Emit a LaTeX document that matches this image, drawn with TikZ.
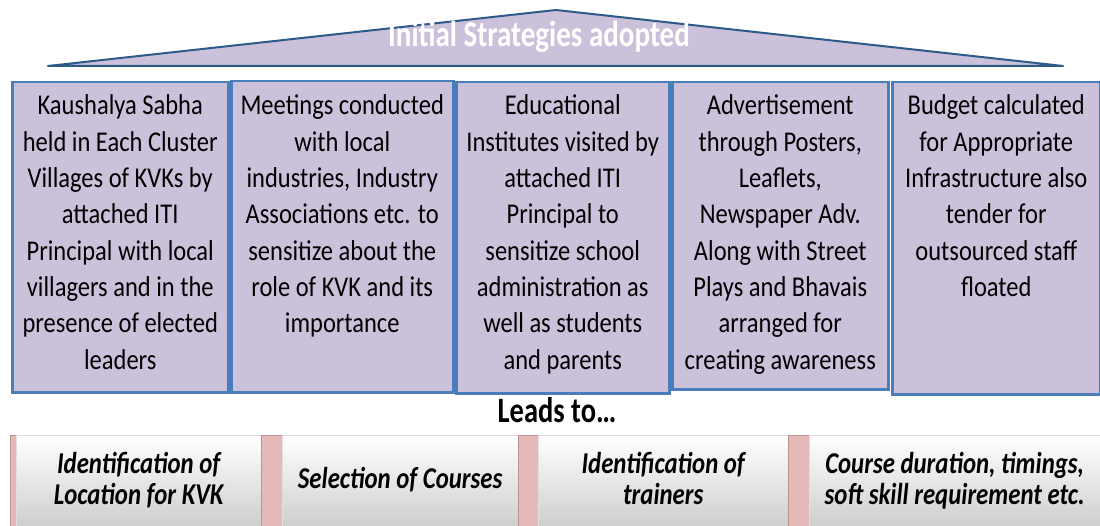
\documentclass[tikz,border=0pt]{standalone}
\usepackage{fontspec}
\setmainfont{Carlito}
\usetikzlibrary{positioning}
\definecolor{lavender}{HTML}{CCC1DA}
\definecolor{roofblue}{HTML}{2E5A8A}
\definecolor{boxblue}{HTML}{4A7EBB}
\definecolor{barpink}{HTML}{E6B9B8}
% text a little taller than wide, as in the slide
\newcommand{\tall}[2][1.25]{\scalebox{1}[#1]{\begin{tabular}{@{}c@{}}#2\end{tabular}}}
\tikzset{
x=1pt, y=-1pt, % one unit per pixel, y runs down
roof/.style={draw=roofblue, line width=2pt, fill=lavender, line join=round}, % the triangle on top
stratbox/.style={draw=boxblue, line width=2.5pt, fill=lavender, anchor=north west}, % the five pillars
strattext/.style={inner sep=0pt, font=\fontsize{24.5}{31.1}\selectfont}, % text in the pillars
leadbox/.style={draw=gray!25, top color=white, bottom color=gray!40, anchor=north west, minimum height=95pt, inner sep=0pt, font=\fontsize{24.8}{25}\selectfont\bfseries\itshape},
pinkbar/.style={draw=barpink!80!black, fill=barpink, anchor=north west, minimum height=95pt, inner sep=0pt},
}

\begin{document}
\begin{tikzpicture}
\useasboundingbox[fill=white] (0,0) rectangle (1100,526);
% roof
\coordinate (roofL) at (48,66);
\coordinate (roofT) at (556,10);
\coordinate (roofR) at (1063,66);
\draw[roof] (roofL) -- (roofT) -- (roofR) -- cycle;
\node[text=white, inner sep=0pt, font=\fontsize{29}{35}\selectfont\bfseries] (title) at (539,38) {\tall{Initial Strategies adopted}};
% pillars
\node[stratbox, minimum width=216pt, minimum height=310pt] (kaushalya) at (11,81) {};
\node[stratbox, minimum width=222pt, minimum height=311pt] (meetings) at (230,80) {};
\node[stratbox, minimum width=213pt, minimum height=311pt] (institutes) at (455,81) {};
\node[stratbox, minimum width=216pt, minimum height=307pt] (advert) at (671,81) {};
\node[stratbox, minimum width=208pt, minimum height=312pt] (budget) at (891,81) {};
\node[strattext, below=8pt of kaushalya.north] (kaushalyaT) {\tall[1.17]{Kaushalya Sabha\\held in Each Cluster\\Villages of KVKs by\\attached ITI\\Principal with local\\villagers and in the\\presence of elected\\leaders}};
\node[strattext, below=9pt of meetings.north] (meetingsT) {\tall[1.17]{Meetings conducted\\with local\\industries, Industry\\Associations etc. to\\sensitize about the\\role of KVK and its\\importance}};
\node[strattext, below=8pt of institutes.north] (institutesT) {\tall[1.17]{Educational\\Institutes visited by\\attached ITI\\Principal to\\sensitize school\\administration as\\well as students\\and parents}};
\node[strattext, below=8pt of advert.north] (advertT) {\tall[1.17]{Advertisement\\through Posters,\\Leaflets,\\Newspaper Adv.\\Along with Street\\Plays and Bhavais\\arranged for\\creating awareness}};
\node[strattext, below=8pt of budget.north] (budgetT) {\tall[1.17]{Budget calculated\\for Appropriate\\Infrastructure also\\tender for\\outsourced staff\\floated}};
% outcome
\node[inner sep=0pt, font=\fontsize{28.5}{34}\selectfont\bfseries] (leads) at (557,414) {\tall{Leads to\dots}};
\node[pinkbar, minimum width=6pt] (bar1) at (10,435) {};
\node[leadbox, minimum width=245pt] (location) at (16,435) {\tall[1.22]{Identification of\\Location for KVK}};
\node[pinkbar, minimum width=21pt] (bar2) at (261,435) {};
\node[leadbox, minimum width=236pt] (courses) at (282,435) {\tall[1.22]{Selection of Courses}};
\node[pinkbar, minimum width=20pt] (bar3) at (518,435) {};
\node[leadbox, minimum width=250pt] (trainers) at (538,435) {\tall[1.22]{Identification of\\trainers}};
\node[pinkbar, minimum width=21pt] (bar4) at (788,435) {};
\node[leadbox, minimum width=291pt] (duration) at (809,435) {\tall[1.22]{Course duration, timings,\\soft skill requirement etc.}};
\end{tikzpicture}
\end{document}
